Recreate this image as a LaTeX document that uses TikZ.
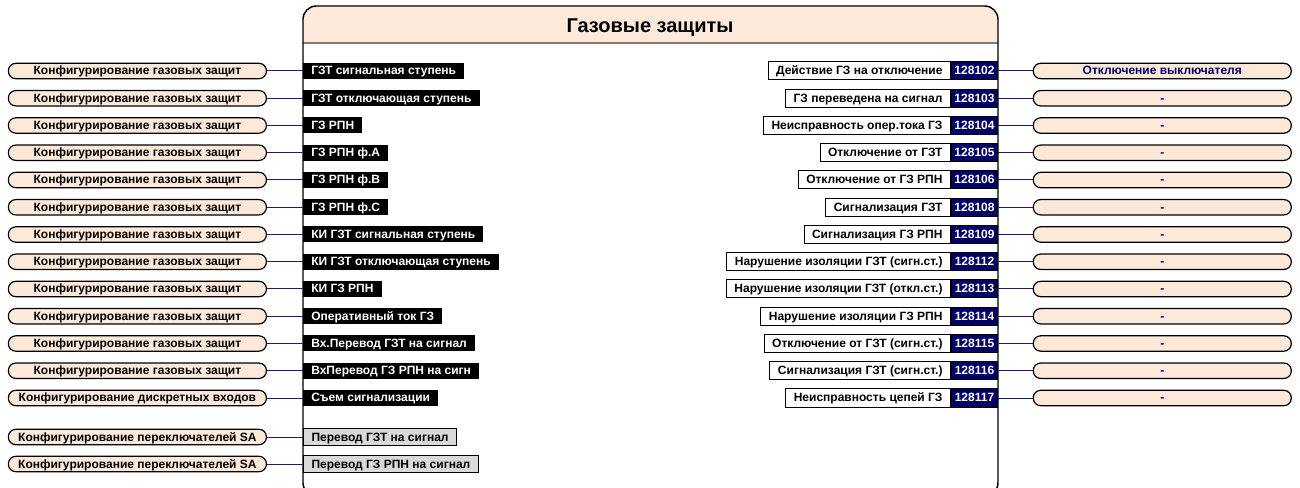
\documentclass[tikz,border=0pt]{standalone}
\usepackage{fontspec}
\setmainfont{Liberation Sans}
\usepackage{tikz}
\usetikzlibrary{positioning}

\definecolor{peach}{HTML}{FCE9DA}
\definecolor{navy}{HTML}{000066}
\definecolor{wireblue}{HTML}{1A1A80}
\definecolor{greybox}{HTML}{D9D9D9}
\definecolor{bandline}{HTML}{857C78}

\begin{document}
\begin{tikzpicture}[
    x=0.75pt, y=-0.75pt,
    font=\fontsize{9}{10}\selectfont\bfseries,
    every node/.append style={text height=6.6pt, text depth=0.6pt},
    pill/.style={draw, rounded corners=5.5pt, fill=peach, line width=0.9pt, minimum width=193.5pt, minimum height=11.5pt, inner sep=0pt},
    outpill/.style={pill, text=navy},
    sig/.style={fill=black, text=white, anchor=west, minimum height=12pt, inner xsep=6pt, inner ysep=0pt},
    sasig/.style={draw, fill=greybox, anchor=west, minimum height=13pt, inner xsep=6pt, inner ysep=0pt, line width=0.8pt},
    num/.style={draw, fill=navy, text=white, anchor=east, minimum height=13.5pt, minimum width=34.5pt, inner sep=0pt, line width=0.75pt},
    evt/.style={draw, fill=white, minimum height=13.5pt, inner xsep=6pt, inner ysep=0pt, line width=0.75pt},
    wire/.style={draw=wireblue, line width=0.75pt}
]

    \useasboundingbox (0,0) rectangle (1300,488);

    \fill [white, rounded corners=10pt] (303,6) rectangle (998,496);
    \begin{scope}
        \clip [rounded corners=10pt] (303,6) rectangle (998,496);
        \fill [peach] (303,6) rectangle (998,43);
    \end{scope}
    \draw [bandline, line width=1.2pt] (303,43) -- (998,43);
    \draw [line width=1.1pt, rounded corners=10pt] (303,6) rectangle (998,496);
    \node [font=\fontsize{15}{17}\selectfont\bfseries, text height=11pt, text depth=0pt] (title) at (650,25) {Газовые защиты};


    \node [sig] (in1) at (303,71) {ГЗТ сигнальная ступень};
    \node [sig] (in2) at (303,98.25) {ГЗТ отключающая ступень};
    \node [sig] (in3) at (303,125.5) {ГЗ РПН};
    \node [sig] (in4) at (303,152.75) {ГЗ РПН ф.А};
    \node [sig] (in5) at (303,180) {ГЗ РПН ф.В};
    \node [sig] (in6) at (303,207.25) {ГЗ РПН ф.С};
    \node [sig] (in7) at (303,234.5) {КИ ГЗТ сигнальная ступень};
    \node [sig] (in8) at (303,261.75) {КИ ГЗТ отключающая ступень};
    \node [sig] (in9) at (303,289) {КИ ГЗ РПН};
    \node [sig] (in10) at (303,316.25) {Оперативный ток ГЗ};
    \node [sig] (in11) at (303,343.5) {Вх.Перевод ГЗТ на сигнал};
    \node [sig] (in12) at (303,370.75) {ВхПеревод ГЗ РПН на сигн};
    \node [sig] (in13) at (303,398) {Съем сигнализации};
    \node [sasig] (sa1) at (303,437) {Перевод ГЗТ на сигнал};
    \node [sasig] (sa2) at (303,464) {Перевод ГЗ РПН на сигнал};


    \node [pill, left=27pt of in1] (src1) {Конфигурирование газовых защит};
    \node [pill, left=27pt of in2] (src2) {Конфигурирование газовых защит};
    \node [pill, left=27pt of in3] (src3) {Конфигурирование газовых защит};
    \node [pill, left=27pt of in4] (src4) {Конфигурирование газовых защит};
    \node [pill, left=27pt of in5] (src5) {Конфигурирование газовых защит};
    \node [pill, left=27pt of in6] (src6) {Конфигурирование газовых защит};
    \node [pill, left=27pt of in7] (src7) {Конфигурирование газовых защит};
    \node [pill, left=27pt of in8] (src8) {Конфигурирование газовых защит};
    \node [pill, left=27pt of in9] (src9) {Конфигурирование газовых защит};
    \node [pill, left=27pt of in10] (src10) {Конфигурирование газовых защит};
    \node [pill, left=27pt of in11] (src11) {Конфигурирование газовых защит};
    \node [pill, left=27pt of in12] (src12) {Конфигурирование газовых защит};
    \node [pill, left=27pt of in13] (src13) {Конфигурирование дискретных входов};
    \node [pill, left=27pt of sa1] (srcsa1) {Конфигурирование переключателей SA};
    \node [pill, left=27pt of sa2] (srcsa2) {Конфигурирование переключателей SA};

    \draw [wire] (src1) -- (in1);
    \draw [wire] (src2) -- (in2);
    \draw [wire] (src3) -- (in3);
    \draw [wire] (src4) -- (in4);
    \draw [wire] (src5) -- (in5);
    \draw [wire] (src6) -- (in6);
    \draw [wire] (src7) -- (in7);
    \draw [wire] (src8) -- (in8);
    \draw [wire] (src9) -- (in9);
    \draw [wire] (src10) -- (in10);
    \draw [wire] (src11) -- (in11);
    \draw [wire] (src12) -- (in12);
    \draw [wire] (src13) -- (in13);
    \draw [wire] (srcsa1) -- (sa1);
    \draw [wire] (srcsa2) -- (sa2);


    \node [num] (n1) at (998,71) {128102};
    \node [num] (n2) at (998,98.25) {128103};
    \node [num] (n3) at (998,125.5) {128104};
    \node [num] (n4) at (998,152.75) {128105};
    \node [num] (n5) at (998,180) {128106};
    \node [num] (n6) at (998,207.25) {128108};
    \node [num] (n7) at (998,234.5) {128109};
    \node [num] (n8) at (998,261.75) {128112};
    \node [num] (n9) at (998,289) {128113};
    \node [num] (n10) at (998,316.25) {128114};
    \node [num] (n11) at (998,343.5) {128115};
    \node [num] (n12) at (998,370.75) {128116};
    \node [num] (n13) at (998,398) {128117};

    \node [evt, left=0pt of n1] (ev1) {Действие ГЗ на отключение};
    \node [evt, left=0pt of n2] (ev2) {ГЗ переведена на сигнал};
    \node [evt, left=0pt of n3] (ev3) {Неисправность опер.тока ГЗ};
    \node [evt, left=0pt of n4] (ev4) {Отключение от ГЗТ};
    \node [evt, left=0pt of n5] (ev5) {Отключение от ГЗ РПН};
    \node [evt, left=0pt of n6] (ev6) {Сигнализация ГЗТ};
    \node [evt, left=0pt of n7] (ev7) {Сигнализация ГЗ РПН};
    \node [evt, left=0pt of n8] (ev8) {Нарушение изоляции ГЗТ (сигн.ст.)};
    \node [evt, left=0pt of n9] (ev9) {Нарушение изоляции ГЗТ (откл.ст.)};
    \node [evt, left=0pt of n10] (ev10) {Нарушение изоляции ГЗ РПН};
    \node [evt, left=0pt of n11] (ev11) {Отключение от ГЗТ (сигн.ст.)};
    \node [evt, left=0pt of n12] (ev12) {Сигнализация ГЗТ (сигн.ст.)};
    \node [evt, left=0pt of n13] (ev13) {Неисправность цепей ГЗ};

    \node [outpill, right=26pt of n1] (dst1) {Отключение выключателя};
    \node [outpill, right=26pt of n2] (dst2) {-};
    \node [outpill, right=26pt of n3] (dst3) {-};
    \node [outpill, right=26pt of n4] (dst4) {-};
    \node [outpill, right=26pt of n5] (dst5) {-};
    \node [outpill, right=26pt of n6] (dst6) {-};
    \node [outpill, right=26pt of n7] (dst7) {-};
    \node [outpill, right=26pt of n8] (dst8) {-};
    \node [outpill, right=26pt of n9] (dst9) {-};
    \node [outpill, right=26pt of n10] (dst10) {-};
    \node [outpill, right=26pt of n11] (dst11) {-};
    \node [outpill, right=26pt of n12] (dst12) {-};
    \node [outpill, right=26pt of n13] (dst13) {-};

    \draw [wire] (n1) -- (dst1);
    \draw [wire] (n2) -- (dst2);
    \draw [wire] (n3) -- (dst3);
    \draw [wire] (n4) -- (dst4);
    \draw [wire] (n5) -- (dst5);
    \draw [wire] (n6) -- (dst6);
    \draw [wire] (n7) -- (dst7);
    \draw [wire] (n8) -- (dst8);
    \draw [wire] (n9) -- (dst9);
    \draw [wire] (n10) -- (dst10);
    \draw [wire] (n11) -- (dst11);
    \draw [wire] (n12) -- (dst12);
    \draw [wire] (n13) -- (dst13);

\end{tikzpicture}
\end{document}
